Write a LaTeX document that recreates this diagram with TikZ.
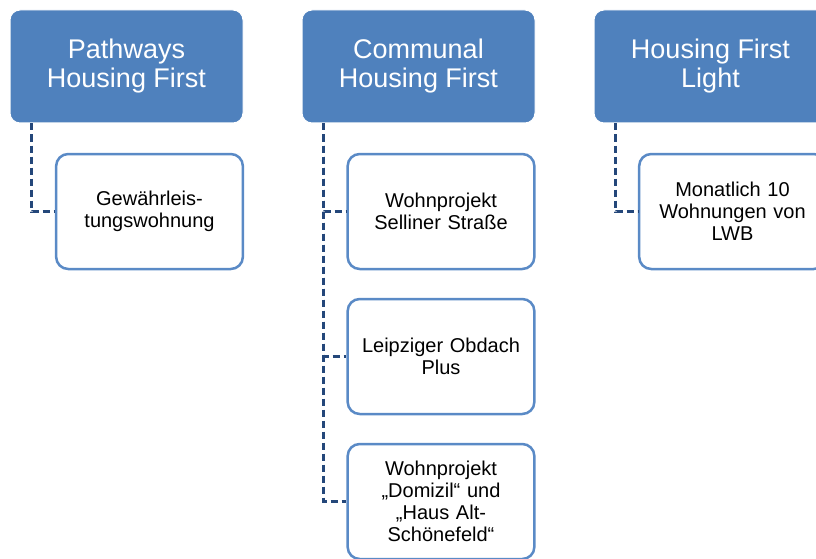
\documentclass[tikz,border=0pt]{standalone}
\usepackage{fontspec}
\setmainfont{Liberation Sans}
\usepackage{tikz}
\usetikzlibrary{positioning,calc}

\definecolor{headblue}{HTML}{4F81BD}
\definecolor{linkblue}{HTML}{24477A}
\definecolor{boxline}{HTML}{5A8AC6}

\begin{document}
\begin{tikzpicture}[
  x=1pt, y=-1pt,
  head/.style={draw=white, line width=1pt, fill=headblue, rounded corners=10pt, minimum width=233pt, minimum height=113pt, align=center, text=white, font=\fontsize{27}{29}\selectfont},
  item/.style={draw=boxline, line width=2.5pt, fill=white, rounded corners=12pt, minimum width=186pt, minimum height=115pt, text width=180pt, align=center, font=\fontsize{20}{22}\selectfont},
  link/.style={draw=linkblue, line width=2.8pt, dash pattern=on 7pt off 4pt},
]

\useasboundingbox (0,0) rectangle (816,559);
\clip (0,0) rectangle (816,559);

% Column heads
\node[head] (PHF) at (126.5, 66.5) {Pathways\\Housing First};
\node[head] (CHF) at (418.5, 66.5) {Communal\\Housing First};
\node[head] (HFL) at (710.5, 66.5) {Housing First\\Light};

% Items below the heads
\node[item] (GW) at (149.5, 211.5) {Gewährleis-\\tungswohnung};
\node[item] (SS) at (441, 211.5) {Wohnprojekt\\Selliner Straße};
\node[item] (LO) at (441, 356.5) {Leipziger Obdach\\Plus};
\node[item] (DO) at (441, 501.5) {Wohnprojekt\\„Domizil“ und\\„Haus Alt-\\Schönefeld“};
\node[item] (LW) at (732.5, 211.5) {Monatlich 10\\Wohnungen von\\LWB};

% Dashed links
\draw[link] ([xshift=22pt]PHF.south west) |- (GW.west);
\draw[link] ([xshift=22pt]CHF.south west) |- (SS.west);
\draw[link] ([xshift=22pt]CHF.south west) |- (LO.west);
\draw[link] ([xshift=22pt]CHF.south west) |- (DO.west);
\draw[link] ([xshift=22pt]HFL.south west) |- (LW.west);

\end{tikzpicture}
\end{document}
